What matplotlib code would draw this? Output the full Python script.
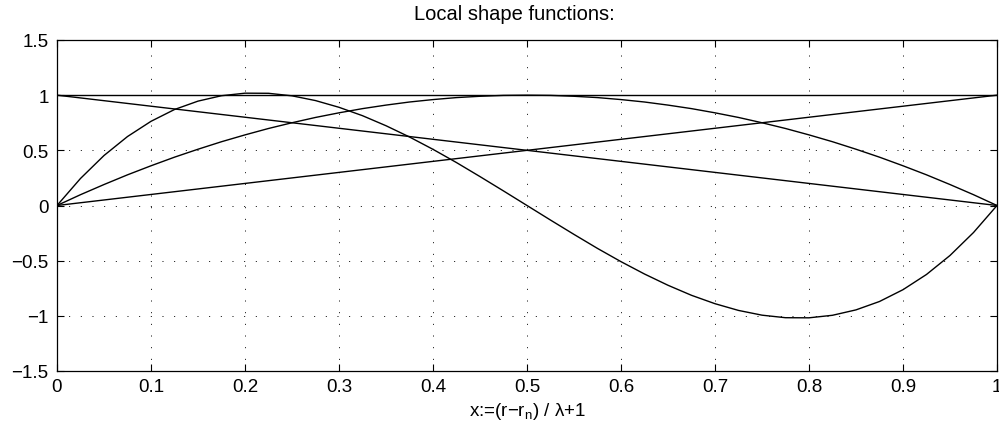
import matplotlib
matplotlib.use('Agg')
import matplotlib.pyplot as plt

plt.rcParams['font.family'] = ['Liberation Sans', 'DejaVu Sans']
plt.rcParams['mathtext.fontset'] = 'custom'
plt.rcParams['mathtext.rm'] = 'Liberation Sans'
plt.rcParams['mathtext.it'] = 'Liberation Sans'

# sample points of the local coordinate x
xs = [0.0, 0.025, 0.05, 0.075, 0.1, 0.125, 0.15, 0.175, 0.2, 0.225,
      0.25, 0.275, 0.3, 0.325, 0.35, 0.375, 0.4, 0.425, 0.45, 0.475,
      0.5, 0.525, 0.55, 0.575, 0.6, 0.625, 0.65, 0.675, 0.7, 0.725,
      0.75, 0.775, 0.8, 0.825, 0.85, 0.875, 0.9, 0.925, 0.95, 0.975, 1.0]

# constant and linear shape functions
n_const = [1.0] * len(xs)
n_down = [1.0, 0.975, 0.95, 0.925, 0.9, 0.875, 0.85, 0.825, 0.8, 0.775,
          0.75, 0.725, 0.7, 0.675, 0.65, 0.625, 0.6, 0.575, 0.55, 0.525,
          0.5, 0.475, 0.45, 0.425, 0.4, 0.375, 0.35, 0.325, 0.3, 0.275,
          0.25, 0.225, 0.2, 0.175, 0.15, 0.125, 0.1, 0.075, 0.05, 0.025, 0.0]
n_up = n_down[::-1]

# quadratic bubble
n_quad = [0.0, 0.098, 0.19, 0.278, 0.36, 0.438, 0.51, 0.578, 0.64, 0.698,
          0.75, 0.798, 0.84, 0.878, 0.91, 0.938, 0.96, 0.978, 0.99, 0.998,
          1.0, 0.998, 0.99, 0.978, 0.96, 0.938, 0.91, 0.878, 0.84, 0.798,
          0.75, 0.698, 0.64, 0.578, 0.51, 0.438, 0.36, 0.278, 0.19, 0.098, 0.0]

# cubic bubble
n_cubic = [0.0, 0.245, 0.453, 0.625, 0.763, 0.870, 0.946, 0.995, 1.018, 1.017,
           0.994, 0.951, 0.890, 0.814, 0.723, 0.621, 0.509, 0.389, 0.262, 0.132,
           0.0, -0.132, -0.262, -0.389, -0.509, -0.621, -0.723, -0.814, -0.890, -0.951,
           -0.994, -1.017, -1.018, -0.995, -0.946, -0.870, -0.763, -0.625, -0.453, -0.245, 0.0]

xticks = [0, 0.1, 0.2, 0.3, 0.4, 0.5, 0.6, 0.7, 0.8, 0.9, 1]
xticklabels = ['0', '0.1', '0.2', '0.3', '0.4', '0.5', '0.6', '0.7', '0.8', '0.9', '1']
yticks = [-1.5, -1, -0.5, 0, 0.5, 1, 1.5]
yticklabels = ['\u22121.5', '\u22121', '\u22120.5', '0', '0.5', '1', '1.5']

fig = plt.figure(figsize=(9.99, 4.39), dpi=100)
ax = fig.add_axes([57 / 999, 1 - 372 / 439, 940 / 999, 331 / 439])

for ys in (n_const, n_down, n_up, n_quad, n_cubic):
    ax.plot(xs, ys, color='black', lw=1.0, solid_joinstyle='round')

ax.set_xlim(0, 1)
ax.set_ylim(-1.5, 1.5)
ax.set_xticks(xticks)
ax.set_xticklabels(xticklabels)
ax.set_yticks(yticks)
ax.set_yticklabels(yticklabels)
ax.grid(True, color='black', linestyle=(0, (1, 11)), linewidth=0.7)
ax.tick_params(direction='in', length=5, width=0.8, labelsize=13.5,
               top=True, right=True)
ax.tick_params(axis='x', pad=5)
ax.tick_params(axis='y', pad=6)
for sp in ax.spines.values():
    sp.set_linewidth(0.9)

ax.set_title('Local shape functions:', fontsize=14.5, pad=15, x=0.487)
ax.set_xlabel('x:=(r\u2212r$_{\\rm n}$) / \u03bb+1', fontsize=13.5, labelpad=4)

fig.savefig('out.png', dpi=100)
